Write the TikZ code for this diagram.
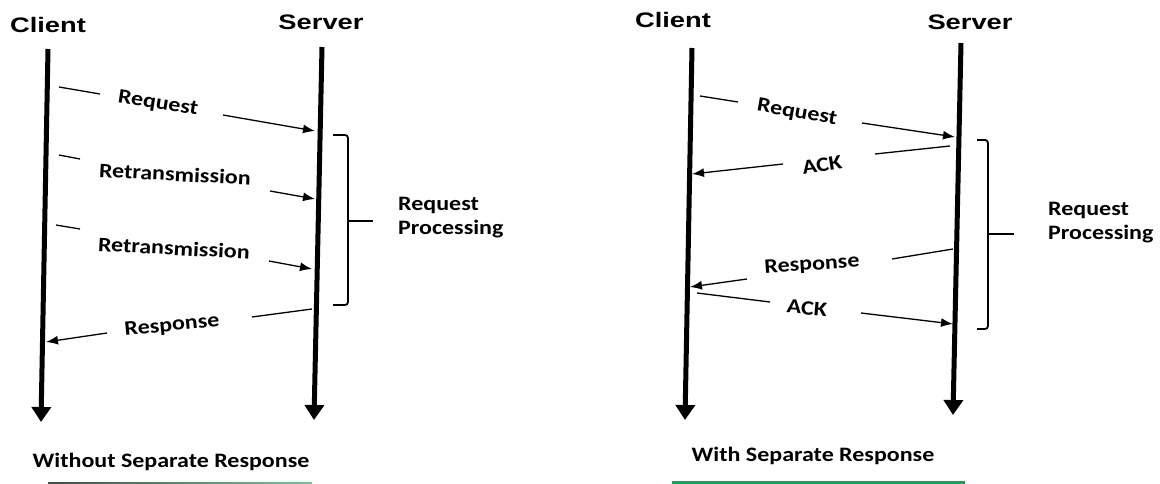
\documentclass[tikz,border=0pt]{standalone}
\usepackage{fontspec}
\usetikzlibrary{arrows.meta}
\newfontfamily\headfont{Liberation Sans}[FakeStretch=1.3]
\newfontfamily\labelfont{Carlito}[FakeStretch=1.17]
\definecolor{capgreen}{RGB}{0,176,80}
\definecolor{fadegreen}{RGB}{110,200,150}
\definecolor{fadedark}{RGB}{60,80,70}
\tikzset{
  head/.style={font=\headfont\bfseries\fontsize{21}{25}\selectfont, inner sep=0pt},
  lbl/.style={font=\labelfont\bfseries\fontsize{20.5}{24}\selectfont, inner sep=0pt},
  lifeline/.style={line width=5pt, -{Triangle[length=15pt,width=19pt]}},
  msg/.style={line width=1.3pt},
  msgtip/.style={line width=1.3pt, -{Latex[length=12pt,width=9pt]}},
  brace/.style={line width=1.8pt, rounded corners=3pt},
}
\begin{document}
\begin{tikzpicture}[x=1pt,y=-1pt]
\useasboundingbox (0,0) rectangle (1160,484);

% ---------------- left: without separate response ----------------
\node[head] (c1) at (48,25) {Client};
\node[head] (s1) at (321,22) {Server};
\coordinate (c1top) at (48,49);  \coordinate (c1end) at (41,422);
\coordinate (s1top) at (322,47); \coordinate (s1end) at (314,420);
\draw[lifeline] (c1top) -- (c1end);
\draw[lifeline] (s1top) -- (s1end);

% Request
\coordinate (r1s) at (59,87);  \coordinate (r1a) at (100,94);
\coordinate (r1b) at (223,115); \coordinate (r1e) at (315,131);
\node[lbl, rotate=-9] (r1) at (158,104) {Request};
\draw[msg] (r1s) -- (r1a);
\draw[msgtip] (r1b) -- (r1e);

% Retransmission 1
\coordinate (t1s) at (59,155);  \coordinate (t1a) at (80,159);
\coordinate (t1b) at (270,191); \coordinate (t1e) at (315,199);
\node[lbl, rotate=-3] (t1) at (175,174) {Retransmission};
\draw[msg] (t1s) -- (t1a);
\draw[msgtip] (t1b) -- (t1e);

% Retransmission 2
\coordinate (t2s) at (56,225);  \coordinate (t2a) at (80,229);
\coordinate (t2b) at (269,261); \coordinate (t2e) at (312,269);
\node[lbl, rotate=-3] (t2) at (174,248) {Retransmission};
\draw[msg] (t2s) -- (t2a);
\draw[msgtip] (t2b) -- (t2e);

% Response
\coordinate (p1s) at (312,309); \coordinate (p1a) at (252,317);
\coordinate (p1b) at (107,333); \coordinate (p1e) at (46,342);
\node[lbl, rotate=5.5] (p1) at (172,326) {Response};
\draw[msg] (p1s) -- (p1a);
\draw[msgtip] (p1b) -- (p1e);

% processing bracket
\draw[brace] (333,135) -- (348,135) -- (348,305) -- (333,305);
\coordinate (b1m) at (348,221); \coordinate (b1t) at (373,221);
\draw[line width=1.8pt] (b1m) -- (b1t);
\node[lbl, anchor=west, align=left] (rp1) at (398,218) {Request\\Processing};

% caption
\node[lbl] (cap1) at (171,462) {Without Separate Response};
\shade[left color=fadedark, right color=fadegreen] (48,482) rectangle (312,484);

% ---------------- right: with separate response ----------------
\node[head] (c2) at (673,20) {Client};
\node[head] (s2) at (970,22) {Server};
\coordinate (c2top) at (692,48); \coordinate (c2end) at (685,420);
\coordinate (s2top) at (961,43); \coordinate (s2end) at (953,415);
\draw[lifeline] (c2top) -- (c2end);
\draw[lifeline] (s2top) -- (s2end);

% Request
\coordinate (r2s) at (700,96);  \coordinate (r2a) at (738,102);
\coordinate (r2b) at (862,123); \coordinate (r2e) at (955,137);
\node[lbl, rotate=-10] (r2) at (797,113) {Request};
\draw[msg] (r2s) -- (r2a);
\draw[msgtip] (r2b) -- (r2e);

% ACK back to client
\coordinate (k1s) at (950,146); \coordinate (k1a) at (875,154);
\coordinate (k1b) at (783,164); \coordinate (k1e) at (692,174);
\node[lbl, rotate=9] (k1) at (822,165) {ACK};
\draw[msg] (k1s) -- (k1a);
\draw[msgtip] (k1b) -- (k1e);

% Response
\coordinate (p2s) at (953,249); \coordinate (p2a) at (892,259);
\coordinate (p2b) at (747,279); \coordinate (p2e) at (690,287);
\node[lbl, rotate=4] (p2) at (812,265) {Response};
\draw[msg] (p2s) -- (p2a);
\draw[msgtip] (p2b) -- (p2e);

% ACK to server
\coordinate (k2s) at (697,293); \coordinate (k2a) at (770,302);
\coordinate (k2b) at (861,313); \coordinate (k2e) at (953,324);
\node[lbl, rotate=-5] (k2) at (807,308) {ACK};
\draw[msg] (k2s) -- (k2a);
\draw[msgtip] (k2b) -- (k2e);

% processing bracket
\draw[brace] (977,140) -- (988,140) -- (988,329) -- (977,329);
\coordinate (b2m) at (988,234); \coordinate (b2t) at (1014,234);
\draw[line width=1.8pt] (b2m) -- (b2t);
\node[lbl, anchor=west, align=left] (rp2) at (1048,223) {Request\\Processing};

% caption
\node[lbl] (cap2) at (813,456) {With Separate Response};
\fill[capgreen] (672,481) rectangle (965,484);
\end{tikzpicture}
\end{document}
